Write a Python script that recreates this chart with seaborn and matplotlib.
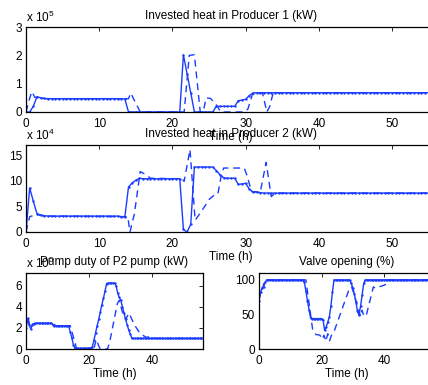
import numpy as np
import pandas as pd
import matplotlib
matplotlib.use("Agg")
import matplotlib.pyplot as plt
import seaborn as sns

# ---------------------------------------------------------------- data
# sampled every half hour, 0 .. 56 h
time_h = np.arange(0, 56.5, 0.5)

# Invested heat in Producer 1, x 1e5 kW (reference run, sampled)
p1_solid = [
    0.0, 0.0, 0.20, 0.54, 0.50, 0.48, 0.47, 0.47, 0.47, 0.47,
    0.47, 0.47, 0.47, 0.47, 0.47, 0.47, 0.47, 0.47, 0.47, 0.47,
    0.47, 0.47, 0.47, 0.47, 0.47, 0.47, 0.47, 0.46, 0.0, 0.0,
    0.0, 0.0, 0.0, 0.0, 0.0, 0.0, 0.0, 0.0, 0.0, 0.0,
    0.0, 0.0, 0.0, 2.02, 1.35, 0.68, 0.0, 0.0, 0.0, 0.0,
    0.0, 0.0, 0.20, 0.20, 0.20, 0.20, 0.20, 0.20, 0.40, 0.42,
    0.45, 0.58, 0.67, 0.68, 0.68, 0.68, 0.68, 0.68, 0.68, 0.68,
    0.68, 0.68, 0.68, 0.68, 0.68, 0.68, 0.68, 0.68, 0.68, 0.68,
    0.68, 0.68, 0.68, 0.68, 0.68, 0.68, 0.68, 0.68, 0.68, 0.68,
    0.68, 0.68, 0.68, 0.68, 0.68, 0.68, 0.68, 0.68, 0.68, 0.68,
    0.68, 0.68, 0.68, 0.68, 0.68, 0.68, 0.68, 0.68, 0.68, 0.68,
    0.68, 0.68, 0.68,
]
# alternative run (dashed)
p1_dash_t = [0, 0.4, 0.8, 1.2, 2.0, 2.5, 14.0, 14.3, 15.6, 21.6, 22.3, 23.0,
             23.8, 24.2, 24.6, 25.2, 26.0, 26.6, 29.8, 30.3, 30.9, 31.3, 32.3,
             32.9, 33.3, 33.8, 34.3, 56.0]
p1_dash_v = [0.0, 0.4, 0.72, 0.52, 0.50, 0.47, 0.47, 0.67, 0.0, 0.0, 2.0, 2.02,
             0.0, 0.0, 0.5, 0.48, 0.25, 0.0, 0.0, 0.1, 0.6, 0.67, 0.67,
             0.0, 0.2, 0.72, 0.68, 0.68]

# Invested heat in Producer 2, x 1e4 kW
p2_solid = [
    0.0, 8.6, 6.0, 3.6, 3.3, 3.2, 3.1, 3.1, 3.1, 3.1,
    3.1, 3.1, 3.1, 3.1, 3.1, 3.1, 3.1, 3.1, 3.1, 3.1,
    3.1, 3.1, 3.1, 3.1, 3.1, 3.1, 3.0, 2.9, 8.8, 9.6,
    10.1, 10.5, 10.4, 10.4, 10.4, 10.4, 10.4, 10.4, 10.4, 10.4,
    10.4, 10.4, 10.4, 0.5, 0.0, 1.5, 12.7, 12.7, 12.7, 12.7,
    12.7, 12.7, 12.0, 11.2, 10.6, 10.5, 10.5, 10.5, 9.3, 9.4,
    9.5, 8.4, 7.8, 7.8, 7.7, 7.6, 7.6, 7.6, 7.6, 7.6,
    7.6, 7.6, 7.6, 7.6, 7.6, 7.6, 7.6, 7.6, 7.6, 7.6,
    7.6, 7.6, 7.6, 7.6, 7.6, 7.6, 7.6, 7.6, 7.6, 7.6,
    7.6, 7.6, 7.6, 7.6, 7.6, 7.6, 7.6, 7.6, 7.6, 7.6,
    7.6, 7.6, 7.6, 7.6, 7.6, 7.6, 7.6, 7.6, 7.6, 7.6,
    7.6, 7.6, 7.6,
]
p2_dash_t = [0, 0.5, 1.5, 2.5, 13.9, 14.2, 14.8, 15.6, 16.4, 17.0, 21.3, 21.6,
             22.4, 23.1, 23.8, 25.1, 25.8, 26.2, 26.6, 27.0, 29.8, 30.2, 30.8,
             32.0, 32.8, 33.5, 34.0, 56.0]
p2_dash_v = [0.0, 3.0, 3.4, 3.1, 3.0, 0.0, 3.5, 11.8, 11.2, 10.5, 10.4, 9.9,
             16.1, 2.3, 3.7, 6.5, 7.3, 7.4, 10.5, 12.5, 12.5, 11.0, 7.9,
             7.8, 13.6, 6.9, 7.6, 7.6]

# Pump duty of P2 pump, x 1e5 kW
pump_solid = [
    2.0, 2.9, 2.3, 1.9, 2.3, 2.4, 2.45, 2.45, 2.45, 2.45,
    2.45, 2.45, 2.45, 2.45, 2.45, 2.45, 2.45, 2.3, 2.2, 2.2,
    2.2, 2.2, 2.2, 2.2, 2.2, 2.2, 2.2, 2.2, 1.6, 1.05,
    0.4, 0.05, 0.05, 0.05, 0.05, 0.05, 0.05, 0.05, 0.05, 0.05,
    0.05, 0.1, 0.2, 0.85, 1.5, 2.2, 2.8, 3.5, 4.2, 4.8,
    5.5, 6.2, 6.25, 6.25, 6.25, 6.25, 6.25, 6.0, 5.3, 4.9,
    4.6, 4.0, 3.4, 2.8, 2.3, 1.8, 1.4, 1.0, 1.0, 1.0,
    1.0, 1.0, 1.0, 1.0, 1.0, 1.0, 1.0, 1.0, 1.0, 1.0,
    1.0, 1.0, 1.0, 1.0, 1.0, 1.0, 1.0, 1.0, 1.0, 1.0,
    1.0, 1.0, 1.0, 1.0, 1.0, 1.0, 1.0, 1.0, 1.0, 1.0,
    1.0, 1.0, 1.0, 1.0, 1.0, 1.0, 1.0, 1.0, 1.0, 1.0,
    1.0, 1.0, 1.0,
]
pump_dash_t = [0, 0.6, 1.4, 2.2, 8.5, 9.5, 14.0, 16.0, 21.5, 22.2, 23.0, 23.5,
               25.8, 26.5, 28.9, 29.5, 30.5, 31.5, 32.6, 33.5, 34.5, 36.0,
               38.0, 39.5, 41.0, 56.0]
pump_dash_v = [2.0, 3.0, 2.0, 2.4, 2.4, 2.2, 2.2, 0.05, 0.05, 0.9, 0.3, 0.0,
               0.0, 0.7, 4.3, 4.6, 3.5, 2.8, 3.4, 2.8, 2.2, 1.5,
               1.1, 1.2, 1.0, 1.0]

# Valve opening, %
valve_solid = [
    70, 82, 89, 90, 97, 100, 100, 100, 100, 100,
    100, 100, 100, 100, 100, 100, 100, 100, 100, 100,
    100, 100, 100, 100, 100, 100, 100, 100, 100, 97,
    84, 70, 57, 45, 44, 44, 44, 44, 44, 44,
    44, 42, 27, 32, 39, 46, 62, 82, 100, 100,
    100, 100, 100, 100, 100, 100, 100, 100, 100, 95,
    89, 80, 68, 55, 49, 62, 78, 95, 100, 100,
    100, 100, 100, 100, 100, 100, 100, 100, 100, 100,
    100, 100, 100, 100, 100, 100, 100, 100, 100, 100,
    100, 100, 100, 100, 100, 100, 100, 100, 100, 100,
    100, 100, 100, 100, 100, 100, 100, 100, 100, 100,
    100, 100, 100,
]
valve_dash_t = [0, 0.6, 1.2, 1.8, 15.0, 16.2, 17.2, 18.2, 19.5, 20.2, 20.8, 21.4,
                22.0, 22.6, 23.2, 24.0, 28.8, 29.6, 30.4, 32.5, 33.0, 33.6, 34.4,
                36.6, 37.2, 40.4, 41.0, 56.0]
valve_dash_v = [70, 85, 88, 100, 100, 60, 27, 21, 20, 14, 20, 11,
                22, 12, 20, 25, 86, 90, 80, 47, 56, 47, 50,
                90, 88, 93, 100, 100]

# ---------------------------------------------------------------- style
FS = 8.5
sns.set_style("white")
plt.rcParams.update({
    "font.family": ["Liberation Sans", "DejaVu Sans"],
    "font.size": FS,
    "mathtext.fontset": "custom",
    "mathtext.rm": "Liberation Sans",
    "mathtext.it": "Liberation Sans:italic",
    "axes.edgecolor": "black",
    "axes.linewidth": 0.9,
    "xtick.direction": "in",
    "ytick.direction": "in",
    "xtick.major.size": 3,
    "ytick.major.size": 3,
    "xtick.major.width": 0.6,
    "ytick.major.width": 0.6,
    "xtick.color": "black",
    "ytick.color": "black",
    "text.color": "black",
    "axes.labelcolor": "black",
})

BLUE = "#1a3cff"
W, H = 428, 385
fig = plt.figure(figsize=(W / 100, H / 100), dpi=100)


def box(left, top, right, bottom):
    return [left / W, (H - bottom) / H, (right - left) / W, (bottom - top) / H]


ax1 = fig.add_axes(box(26, 27, 436, 112))
ax2 = fig.add_axes(box(26, 145, 436, 232))
ax3 = fig.add_axes(box(26, 273, 203, 349))
ax4 = fig.add_axes(box(259, 273, 434, 349))


def draw(ax, solid, dash_t, dash_v):
    sns.lineplot(x=time_h, y=solid, ax=ax, color=BLUE, linewidth=1.0,
                 marker=".", markersize=3.4, markeredgewidth=0)
    sns.lineplot(x=dash_t, y=dash_v, ax=ax, color=BLUE, linewidth=1.0,
                 linestyle=(0, (5, 3.5)))


draw(ax1, p1_solid, p1_dash_t, p1_dash_v)
draw(ax2, p2_solid, p2_dash_t, p2_dash_v)
draw(ax3, pump_solid, pump_dash_t, pump_dash_v)
draw(ax4, valve_solid, valve_dash_t, valve_dash_v)

panels = [
    (ax1, "Invested heat in Producer 1 (kW)", (0, 3), [0, 1, 2, 3],
     [0, 10, 20, 30, 40, 50], r"x 10$^5$"),
    (ax2, "Invested heat in Producer 2 (kW)", (0, 17), [0, 5, 10, 15],
     [0, 10, 20, 30, 40, 50], r"x 10$^4$"),
    (ax3, "Pump duty of P2 pump (kW)", (0, 7.2), [0, 2, 4, 6],
     [0, 20, 40], r"x 10$^5$"),
    (ax4, "Valve opening (%)", (0, 110), [0, 50, 100],
     [0, 20, 40], None),
]

for ax, title, ylim, yticks, xticks, expo in panels:
    ax.set_xlim(0, 56)
    ax.set_ylim(*ylim)
    ax.set_yticks(yticks)
    ax.set_xticks(xticks)
    ax.tick_params(top=True, right=True, labelsize=FS)
    ax.tick_params(axis="x", pad=4.5)
    ax.tick_params(axis="y", pad=3)
    ax.set_title(title, fontsize=FS, pad=5.5)
    ax.set_xlabel("Time (h)", fontsize=FS, labelpad=0.5)
    ax.set_ylabel("")
    for s in ax.spines.values():
        s.set_visible(True)
    if expo:
        ax.annotate(expo, xy=(0, 1), xycoords="axes fraction",
                    xytext=(0, 1.5), textcoords="offset points",
                    ha="left", va="bottom", fontsize=FS)

fig.savefig("out.png", dpi=100)
